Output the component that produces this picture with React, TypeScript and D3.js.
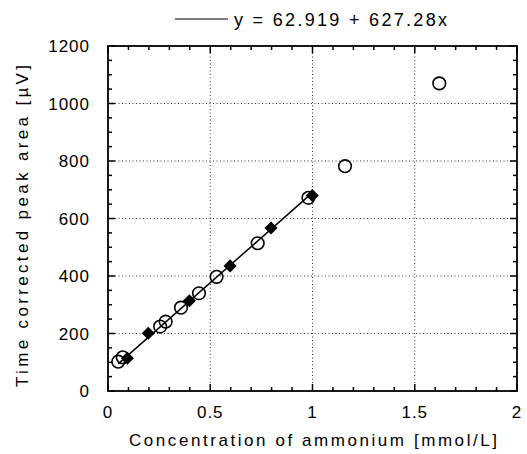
import React from "react";
import * as d3 from "d3";

const openX = [0.05, 0.072, 0.255, 0.282, 0.357, 0.445, 0.531, 0.732, 0.98, 1.159, 1.62];
const openY = [102, 117, 224, 241, 290, 340, 397, 514, 672, 782, 1070];
const filledX = [0.095, 0.197, 0.398, 0.597, 0.797, 0.999];
const filledY = [114, 201, 314, 435, 567, 680];
const fitIntercept = 62.919;
const fitSlope = 627.28;
const fitRange = [0.05, 1.0];
const xTicks = [0, 0.5, 1, 1.5, 2];
const xTickLabels = ["0", "0.5", "1", "1.5", "2"];
const yTicks = [0, 200, 400, 600, 800, 1000, 1200];
const xMinor = d3.range(0, 2.0001, 0.1);
const yMinor = d3.range(0, 1200.001, 50);
const legendText = "y = 62.919 + 627.28x";
const xTitle = "Concentration of ammonium [mmol/L]";
const yTitle = "Time corrected peak area [µV]";

const W = 527, H = 454;
const L = 108, R = 517, T = 46, B = 391;
const FONT = "'Liberation Sans', Arial, Helvetica, sans-serif";

export default function App() {
  const x = d3.scaleLinear().domain([0, 2]).range([L, R]);
  const y = d3.scaleLinear().domain([0, 1200]).range([B, T]);
  const line = d3.line<number>().x((d) => x(d)).y((d) => y(fitIntercept + fitSlope * d));
  const diamond = d3.symbol().type(d3.symbolDiamond2).size(110)();
  const isMajorX = (v: number) => Math.abs(v * 2 - Math.round(v * 2)) < 1e-6;
  const isMajorY = (v: number) => Math.abs(v / 200 - Math.round(v / 200)) < 1e-6;
  return (
    <svg width={W} height={H} style={{ position: "absolute", left: 0, top: 0, background: "#fff" }} fontFamily={FONT}>
      <rect x={0} y={0} width={W} height={H} fill="#fff" />
      {/* grid */}
      {xTicks.slice(1, -1).map((t) => (
        <line key={"gx" + t} x1={x(t)} x2={x(t)} y1={T} y2={B} stroke="#333" strokeWidth={1} strokeDasharray="1,2.5" />
      ))}
      {yTicks.slice(1, -1).map((t) => (
        <line key={"gy" + t} x1={L} x2={R} y1={y(t)} y2={y(t)} stroke="#333" strokeWidth={1} strokeDasharray="1,2.5" />
      ))}
      {/* ticks */}
      {xMinor.map((t) => {
        const len = isMajorX(t) ? 7 : 4;
        return (
          <g key={"tx" + t}>
            <line x1={x(t)} x2={x(t)} y1={B} y2={B - len} stroke="#000" strokeWidth={1.5} />
            <line x1={x(t)} x2={x(t)} y1={T} y2={T + len} stroke="#000" strokeWidth={1.5} />
          </g>
        );
      })}
      {yMinor.map((t) => {
        const len = isMajorY(t) ? 7 : 4;
        return (
          <g key={"ty" + t}>
            <line x1={L} x2={L + len} y1={y(t)} y2={y(t)} stroke="#000" strokeWidth={1.5} />
            <line x1={R} x2={R - len} y1={y(t)} y2={y(t)} stroke="#000" strokeWidth={1.5} />
          </g>
        );
      })}
      {/* frame */}
      <rect x={L} y={T} width={R - L} height={B - T} fill="none" stroke="#000" strokeWidth={1.8} />
      {/* fit line */}
      <path d={line(fitRange) || ""} fill="none" stroke="#000" strokeWidth={1.5} />
      {/* open circles */}
      {openX.map((v, i) => (
        <circle key={"o" + i} cx={x(v)} cy={y(openY[i])} r={6.3} fill="none" stroke="#000" strokeWidth={1.6} />
      ))}
      {/* filled diamonds */}
      {filledX.map((v, i) => (
        <path key={"f" + i} d={diamond || ""} transform={`translate(${x(v)},${y(filledY[i])})`} fill="#000" />
      ))}
      {/* tick labels */}
      {xTicks.map((t, i) => (
        <text key={"xl" + t} x={x(t)} y={418} textAnchor="middle" fontSize={17} letterSpacing={1}>
          {xTickLabels[i]}
        </text>
      ))}
      {yTicks.map((t) => (
        <text key={"yl" + t} x={90} y={y(t) + 6} textAnchor="end" fontSize={17} letterSpacing={1}>
          {t}
        </text>
      ))}
      {/* titles */}
      <text x={313} y={446} textAnchor="middle" fontSize={17} textLength={368} lengthAdjust="spacing">
        {xTitle}
      </text>
      <text transform={`translate(28,226) rotate(-90)`} textAnchor="middle" fontSize={17} textLength={322} lengthAdjust="spacing">
        {yTitle}
      </text>
      {/* legend */}
      <line x1={175} x2={228} y1={19} y2={19} stroke="#000" strokeWidth={1} />
      <text x={234} y={26} fontSize={18} textLength={213} lengthAdjust="spacing">
        {legendText}
      </text>
    </svg>
  );
}
